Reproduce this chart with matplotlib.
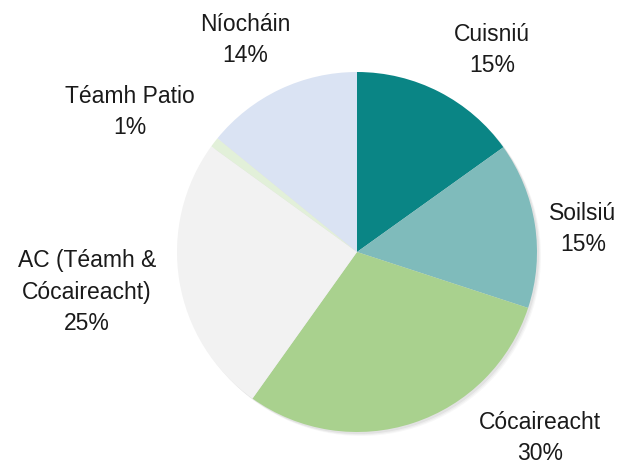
import matplotlib.pyplot as plt
from matplotlib.patches import Circle

plt.rcParams['font.family'] = ['Liberation Sans', 'DejaVu Sans']

categories = ['Cuisniú', 'Soilsiú', 'Cócaireacht', 'AC (Téamh &\nCócaireacht)', 'Téamh Patio', 'Níocháin']
values = [15.1, 14.9, 29.8, 25.1, 0.9, 14.1]
pct_labels = ['15%', '15%', '30%', '25%', '1%', '14%']
colors = ['#0A8585', '#7FBBBB', '#A9D18E', '#F2F2F2', '#E2F0D9', '#DAE3F3']

# label centres in pixel coords (x, y from top)
label_pos = [(492, 50), (583, 229), (540, 438), (87, 292), (130, 112), (245, 40)]

W, H = 624, 468
fig = plt.figure(figsize=(6.24, 4.68), dpi=100)
ax = fig.add_axes([0, 0, 1, 1])
ax.set_xlim(0, W)
ax.set_ylim(0, H)
ax.set_aspect('equal')
ax.axis('off')

cx, cy, r = 357, H - 252, 180

# soft shadow
for k, a in enumerate([0.10, 0.08, 0.06]):
    ax.add_patch(Circle((cx + 2 + k, cy - 2 - k), r, color='#808080', alpha=a, lw=0, zorder=0))

ax.pie(values, colors=colors, startangle=90, counterclock=False,
       center=(cx, cy), radius=r, frame=True,
       wedgeprops=dict(linewidth=0, zorder=1))
ax.set_xlim(0, W)
ax.set_ylim(0, H)
ax.axis('off')

for cat, pct, (x, y) in zip(categories, pct_labels, label_pos):
    ax.text(x, H - y, cat + '\n' + pct, ha='center', va='center',
            fontsize=16.5, color='#1a1a1a', linespacing=1.45)

fig.savefig('out.png', dpi=100)
